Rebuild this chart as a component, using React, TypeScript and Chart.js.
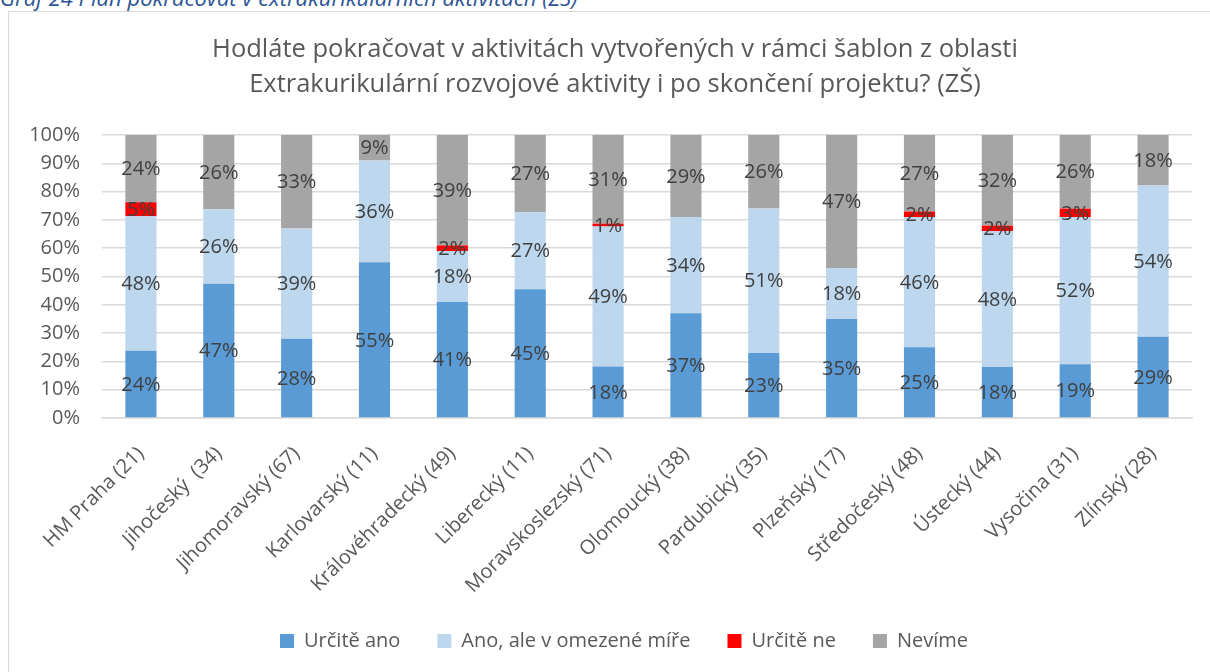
import React, { useEffect, useRef } from "react";
import { Chart, registerables } from "chart.js";

Chart.register(...registerables);

const captionText = "Graf 24 Plán pokračovat v extrakurikulárních aktivitách (ZŠ)";
const titleLines = [
  "Hodláte pokračovat v aktivitách vytvořených v rámci šablon z oblasti",
  "Extrakurikulární rozvojové aktivity i po skončení projektu? (ZŠ)",
];
const categories = [
  "HM Praha (21)",
  "Jihočeský  (34)",
  "Jihomoravský (67)",
  "Karlovarský (11)",
  "Královéhradecký (49)",
  "Liberecký (11)",
  "Moravskoslezský (71)",
  "Olomoucký (38)",
  "Pardubický (35)",
  "Plzeňský (17)",
  "Středočeský (48)",
  "Ústecký (44)",
  "Vysočina (31)",
  "Zlínský (28)",
];
const seriesNames = ["Určitě ano", "Ano, ale v omezené míře", "Určitě ne", "Nevíme"];
const urciteAno = [24, 47, 28, 55, 41, 45, 18, 37, 23, 35, 25, 18, 19, 29];
const anoOmezene = [48, 26, 39, 36, 18, 27, 49, 34, 51, 18, 46, 48, 52, 54];
const urciteNe = [5, 0, 0, 0, 2, 0, 1, 0, 0, 0, 2, 2, 3, 0];
const nevime = [24, 26, 33, 9, 39, 27, 31, 29, 26, 47, 27, 32, 26, 18];
const seriesColors = ["#5B9BD5", "#BDD7EE", "#FF0000", "#A5A5A5"];
const yTickValues = [0, 10, 20, 30, 40, 50, 60, 70, 80, 90, 100];

const FONT = "'Open Sans'";
const TEXT_GREY = "#595959";

const segLabels = {
  id: "segLabels",
  afterDatasetsDraw(chart: any) {
    const ctx = chart.ctx;
    ctx.save();
    ctx.font = `20px ${FONT}`;
    ctx.fillStyle = "#404040";
    ctx.textAlign = "center";
    ctx.textBaseline = "middle";
    chart.data.datasets.forEach((ds: any, di: number) => {
      const meta = chart.getDatasetMeta(di);
      meta.data.forEach((el: any, i: number) => {
        const v = ds.rawValues[i];
        if (!v) return;
        const p = el.getProps(["x", "y", "base"], true);
        ctx.fillText(v + "%", p.x, (p.y + p.base) / 2 + 1);
      });
    });
    ctx.restore();
  },
};

// centre title and legend over the whole chart frame (as in the original)
const shiftBlocks = {
  id: "shiftBlocks",
  afterLayout(chart: any) {
    if (chart.titleBlock) chart.titleBlock.left += 18;
    if (chart.legend) chart.legend.left += 36;
  },
};

export default function App() {
  const ref = useRef<HTMLCanvasElement | null>(null);

  useEffect(() => {
    if (!ref.current) return;
    const series = [urciteAno, anoOmezene, urciteNe, nevime];
    const totals = categories.map((_, i) => series.reduce((s, arr) => s + arr[i], 0));
    const chart = new Chart(ref.current, {
      type: "bar",
      data: {
        labels: categories,
        datasets: series.map((arr, si) => ({
          label: seriesNames[si],
          data: arr.map((v, i) => (v / totals[i]) * 100),
          rawValues: arr,
          backgroundColor: seriesColors[si],
          borderWidth: 0,
          barPercentage: 0.4,
          categoryPercentage: 1,
        })) as any,
      },
      options: {
        animation: false,
        responsive: false,
        maintainAspectRatio: false,
        layout: { padding: { left: 20, right: 38, top: 0, bottom: 11 } },
        plugins: {
          title: {
            display: true,
            text: titleLines,
            color: TEXT_GREY,
            font: { family: FONT, size: 25.5, weight: "normal", lineHeight: "35px" },
            padding: { top: 32, bottom: 33 },
          },
          legend: {
            position: "bottom",
            labels: {
              color: TEXT_GREY,
              font: { family: FONT, size: 20 },
              boxWidth: 14,
              boxHeight: 14,
              padding: 37,
            },
          },
          tooltip: { enabled: false },
        },
        scales: {
          x: {
            stacked: true,
            grid: { display: false, drawTicks: false },
            border: { display: true, color: "#D9D9D9", width: 1.5 },
            ticks: {
              color: TEXT_GREY,
              font: { family: FONT, size: 20 },
              minRotation: 45,
              maxRotation: 45,
              autoSkip: false,
              padding: 24,
            },
            afterFit: (s: any) => {
              s.height = 176;
            },
          },
          y: {
            stacked: true,
            min: 0,
            max: 100,
            afterBuildTicks: (s: any) => {
              s.ticks = yTickValues.map((v) => ({ value: v }));
            },
            grid: { color: "#D9D9D9", lineWidth: 1.5, drawTicks: false },
            border: { display: false },
            ticks: {
              color: TEXT_GREY,
              font: { family: FONT, size: 20 },
              padding: 22,
              callback: (v: any) => v + "%",
            },
            afterFit: (s: any) => {
              s.width = 82;
            },
          },
        },
      },
      plugins: [segLabels, shiftBlocks],
    });
    return () => chart.destroy();
  }, []);

  return (
    <div
      style={{
        position: "fixed",
        left: 0,
        top: 0,
        width: 1210,
        height: 672,
        overflow: "hidden",
        background: "#fff",
      }}
    >
      <div
        style={{
          position: "absolute",
          left: 0,
          top: -14,
          fontFamily: FONT,
          fontStyle: "italic",
          fontSize: 22,
          lineHeight: "22px",
          color: "#2E5597",
          whiteSpace: "nowrap",
        }}
      >
        {captionText}
      </div>
      <div
        style={{
          position: "absolute",
          left: 8,
          top: 11,
          width: 1230,
          height: 700,
          border: "1.5px solid #D9D9D9",
          boxSizing: "border-box",
        }}
      />
      <canvas
        ref={ref}
        width={1230}
        height={672}
        style={{ position: "absolute", left: 0, top: 0, width: 1230, height: 672 }}
      />
    </div>
  );
}
